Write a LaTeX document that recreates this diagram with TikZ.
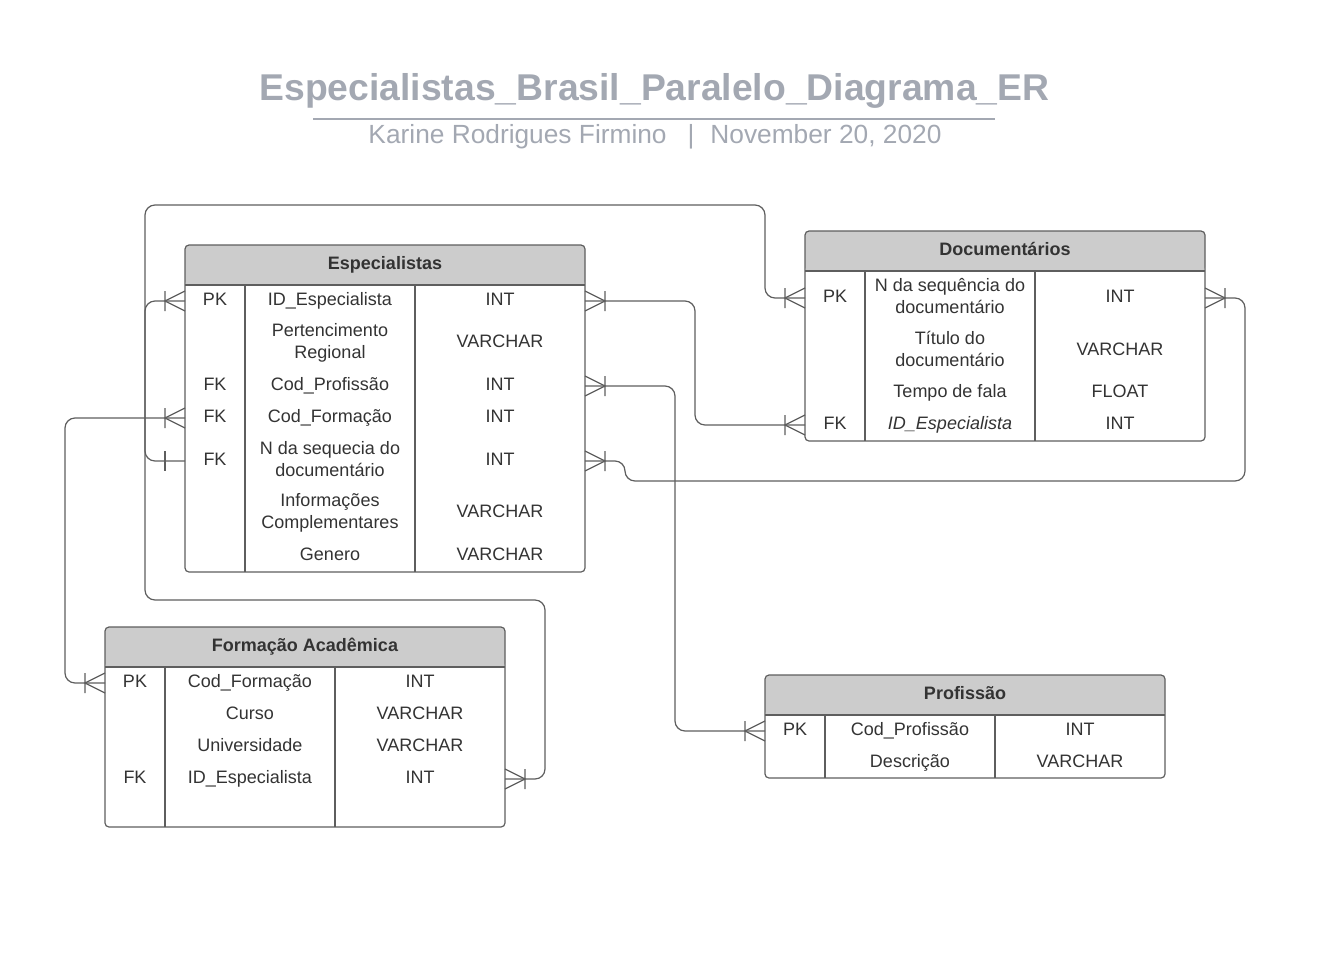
\documentclass[tikz,border=0pt]{standalone}
\usepackage{fontspec}
\setmainfont{Liberation Sans}
\definecolor{titcor}{RGB}{163,168,178}
\definecolor{cabcor}{RGB}{204,204,204}
\definecolor{bordacor}{RGB}{94,94,94}
\definecolor{textocor}{RGB}{51,51,51}
\newcommand{\campo}[3]{%
  \parbox[c]{60pt}{\centering\strut #1\strut}%
  \parbox[c]{170pt}{\centering\strut #2\strut}%
  \parbox[c]{170pt}{\centering\strut #3\strut}}
\begin{document}
\begin{tikzpicture}[x=1pt, y=-1pt, line width=1.2pt,
    tab/.style = {draw=bordacor, fill=white, rounded corners=4pt, outer sep=0pt,
      minimum width=400pt, anchor=north west,
      path picture={\fill[cabcor] (path picture bounding box.north west)
        rectangle ([yshift=-40pt]path picture bounding box.north east);}},
    cab/.style = {font=\fontsize{18}{22}\selectfont\bfseries, text=textocor},
    linha/.style = {inner sep=0pt, outer sep=0pt, font=\fontsize{18}{22}\selectfont, text=textocor},
    borda/.style = {draw=bordacor},
    liga/.style = {draw=bordacor, rounded corners=10pt},
    titulo/.style = {font=\fontsize{37.3}{44}\selectfont\bfseries, text=titcor},
    autor/.style = {font=\fontsize{26.3}{30}\selectfont, text=titcor},
    muitos/.pic = {\draw[bordacor] (0,-10) -- (-20,0) -- (0,10) (-20,-10) -- (-20,10);},
    um/.pic = {\draw[bordacor] (-20,-10) -- (-20,10);}]
    \useasboundingbox (0,0) rectangle (1328,959);

    % Titolo
    \node[titulo, anchor=base] (tit) at (654.5,100) {Especialistas\_Brasil\_Paralelo\_Diagrama\_ER};
    \draw[titcor, line width=1.5pt] (313,119) -- (995,119);
    \node[autor, anchor=base] (aut) at (655,143) {Karine Rodrigues Firmino\hspace{21pt}|\hspace{16pt}November 20, 2020};

    % Tabelas
    \node[tab, minimum height=327pt] (esp) at (185,245) {};
    \node[tab, minimum height=210pt] (doc) at (805,231) {};
    \node[tab, minimum height=200pt] (form) at (105,627) {};
    \node[tab, minimum height=103pt] (prof) at (765,675) {};

    \node[cab] (esp-t) at ([yshift=-20pt]esp.north) {\strut Especialistas};
    \node[cab] (doc-t) at ([yshift=-20pt]doc.north) {\strut Documentários};
    \node[cab] (form-t) at ([yshift=-20pt]form.north) {\strut Formação Acadêmica};
    \node[cab] (prof-t) at ([yshift=-20pt]prof.north) {\strut Profissão};

    \draw[borda] ([yshift=-40pt]esp.north west) -- ([yshift=-40pt]esp.north east);
    \draw[borda] ([xshift=60pt,yshift=-40pt]esp.north west) -- ([xshift=60pt]esp.south west);
    \draw[borda] ([xshift=230pt,yshift=-40pt]esp.north west) -- ([xshift=230pt]esp.south west);
    \draw[borda] ([yshift=-40pt]doc.north west) -- ([yshift=-40pt]doc.north east);
    \draw[borda] ([xshift=60pt,yshift=-40pt]doc.north west) -- ([xshift=60pt]doc.south west);
    \draw[borda] ([xshift=230pt,yshift=-40pt]doc.north west) -- ([xshift=230pt]doc.south west);
    \draw[borda] ([yshift=-40pt]form.north west) -- ([yshift=-40pt]form.north east);
    \draw[borda] ([xshift=60pt,yshift=-40pt]form.north west) -- ([xshift=60pt]form.south west);
    \draw[borda] ([xshift=230pt,yshift=-40pt]form.north west) -- ([xshift=230pt]form.south west);
    \draw[borda] ([yshift=-40pt]prof.north west) -- ([yshift=-40pt]prof.north east);
    \draw[borda] ([xshift=60pt,yshift=-40pt]prof.north west) -- ([xshift=60pt]prof.south west);
    \draw[borda] ([xshift=230pt,yshift=-40pt]prof.north west) -- ([xshift=230pt]prof.south west);

    % Campos
    \node[linha] (esp-id) at (385,301) {\campo{PK}{ID\_Especialista}{INT}};
    \node[linha] (esp-reg) at (385,343) {\campo{}{Pertencimento\\Regional}{VARCHAR}};
    \node[linha] (esp-prof) at (385,386) {\campo{FK}{Cod\_Profissão}{INT}};
    \node[linha] (esp-form) at (385,418) {\campo{FK}{Cod\_Formação}{INT}};
    \node[linha] (esp-doc) at (385,461) {\campo{FK}{N da sequecia do\\documentário}{INT}};
    \node[linha] (esp-info) at (385,513) {\campo{}{Informações\\Complementares}{VARCHAR}};
    \node[linha] (esp-gen) at (385,556) {\campo{}{Genero}{VARCHAR}};

    \node[linha] (doc-pk) at (1005,298) {\campo{PK}{N da sequência do\\documentário}{INT}};
    \node[linha] (doc-tit) at (1005,351) {\campo{}{Título do\\documentário}{VARCHAR}};
    \node[linha] (doc-tempo) at (1005,393) {\campo{}{Tempo de fala}{FLOAT}};
    \node[linha] (doc-fk) at (1005,425) {\campo{FK}{\textit{ID\_Especialista}}{INT}};

    \node[linha] (form-pk) at (305,683) {\campo{PK}{Cod\_Formação}{INT}};
    \node[linha] (form-curso) at (305,715) {\campo{}{Curso}{VARCHAR}};
    \node[linha] (form-univ) at (305,747) {\campo{}{Universidade}{VARCHAR}};
    \node[linha] (form-fk) at (305,779) {\campo{FK}{ID\_Especialista}{INT}};

    \node[linha] (prof-pk) at (965,731) {\campo{PK}{Cod\_Profissão}{INT}};
    \node[linha] (prof-desc) at (965,763) {\campo{}{Descrição}{VARCHAR}};

    % Ligacoes
    \draw[liga] (esp-id.east) -- ++(110,0) |- (doc-fk.west);
    \draw[liga] (esp-prof.east) -- ++(90,0) |- (prof-pk.west);
    \draw[liga] (esp-doc.east) -- ++(40,0) -- ++(0,20) -- ++(620,0) |- (doc-pk.east);
    \draw[liga] (doc-pk.west) -- ++(-40,0) -- ++(0,-93) -- ++(-620,0) |- (esp-doc.west);
    \draw[liga] (esp-id.west) -- ++(-40,0) -- ++(0,299) -- ++(400,0) |- (form-fk.east);
    \draw[liga] (esp-form.west) -- ++(-120,0) |- (form-pk.west);

    \pic[xscale=-1] at (esp-id.east) {muitos};
    \pic at (doc-fk.west) {muitos};
    \pic[xscale=-1] at (esp-prof.east) {muitos};
    \pic at (prof-pk.west) {muitos};
    \pic[xscale=-1] at (esp-doc.east) {muitos};
    \pic[xscale=-1] at (doc-pk.east) {muitos};
    \pic at (doc-pk.west) {muitos};
    \pic at (esp-doc.west) {um};
    \pic at (esp-id.west) {muitos};
    \pic[xscale=-1] at (form-fk.east) {muitos};
    \pic at (esp-form.west) {muitos};
    \pic at (form-pk.west) {muitos};
\end{tikzpicture}
\end{document}
